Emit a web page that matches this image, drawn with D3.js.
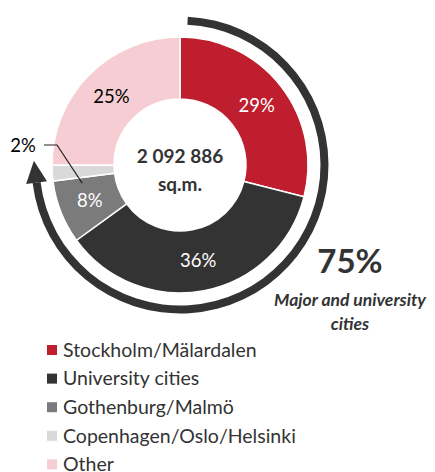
<!DOCTYPE html>
<html>
<head>
<meta charset="utf-8">
<script src="https://cdn.jsdelivr.net/npm/d3@7"></script>
<style>
  body { margin: 0; background: #fff; }
  text { font-family: Lato, "Open Sans", sans-serif; }
</style>
</head>
<body>
<svg class="mysvg"></svg>
<script>
var categories = ["Stockholm/Mälardalen", "University cities", "Gothenburg/Malmö", "Copenhagen/Oslo/Helsinki", "Other"];
var values = [29, 36, 8, 2, 25];
var colors = ["#be1e2d", "#333333", "#7b7b7b", "#d9d9d9", "#f6cdd2"];
var labelColors = ["#fff", "#fff", "#fff", "#000", "#000"];
var totalLabel = ["2 092 886", "sq.m."];
var highlight = "75%";
var highlightText = ["Major and university", "cities"];

var svgWidth = 435,
    svgHeight = 472,
    cx = 180,
    cy = 165,
    outer = 128,
    inner = 66;

var svg = d3.select(".mysvg")
    .attr("width", svgWidth)
    .attr("height", svgHeight);

var g = svg.append("g")
    .attr("transform", "translate(" + cx + "," + cy + ")");

var data = categories.map(function(c, i) { return {name: c, value: values[i], i: i}; });

var pie = d3.pie().sort(null).value(function(d) { return d.value; });
var arcs = pie(data);

var path = d3.arc().innerRadius(inner).outerRadius(outer);
var labelArc = d3.arc().innerRadius(97).outerRadius(97);

g.selectAll("path.slice")
    .data(arcs)
    .enter()
    .append("path")
    .attr("class", "slice")
    .attr("d", path)
    .attr("fill", function(d) { return colors[d.data.i]; })
    .attr("stroke", "#fff")
    .attr("stroke-width", 1.5);

// labels inside slices (the 2% one sits outside)
g.selectAll("text.lbl")
    .data(arcs.filter(function(d) { return d.data.value > 2; }))
    .enter()
    .append("text")
    .attr("class", "lbl")
    .attr("transform", function(d) { return "translate(" + labelArc.centroid(d) + ")"; })
    .attr("text-anchor", "middle")
    .attr("dy", "0.35em")
    .attr("font-size", 18.5)
    .attr("fill", function(d) { return labelColors[d.data.i]; })
    .text(function(d) { return d.data.value + "%"; });

// small slice label with leader line
var small = arcs[3];
var sa = (small.startAngle + small.endAngle) / 2;
var p0 = [Math.sin(sa) * 98, -Math.cos(sa) * 98 + 12];
g.append("polyline")
    .attr("points", [[-136, -20], [-123, -20], p0].join(" "))
    .attr("fill", "none")
    .attr("stroke", "#222")
    .attr("stroke-width", 1.2);
g.append("text")
    .attr("x", -157)
    .attr("y", -19)
    .attr("dy", "0.35em")
    .attr("text-anchor", "middle")
    .attr("font-size", 18.5)
    .attr("fill", "#000")
    .text(small.data.value + "%");

// centre total
g.selectAll("text.total")
    .data(totalLabel)
    .enter()
    .append("text")
    .attr("class", "total")
    .attr("text-anchor", "middle")
    .attr("y", function(d, i) { return -9 + i * 28; })
    .attr("dy", "0.35em")
    .attr("font-size", 19)
    .attr("font-weight", "bold")
    .attr("fill", "#333")
    .text(function(d) { return d; });

// arrow arc round the big share
var ringR = 144.5;
var endA = 263 * Math.PI / 180;
var ring = d3.arc().innerRadius(ringR - 4).outerRadius(ringR + 4)
    .startAngle(3 * Math.PI / 180).endAngle(endA);
g.append("path").attr("d", ring()).attr("fill", "#333");

var ex = Math.sin(endA) * ringR, ey = -Math.cos(endA) * ringR;
var tx = Math.cos(endA), ty = Math.sin(endA); // tangent, clockwise
var nx = -ty, ny = tx;
g.append("path")
    .attr("d", "M" + (ex + tx * 22) + "," + (ey + ty * 22) +
        "L" + (ex + nx * 10.5) + "," + (ey + ny * 10.5) +
        "L" + (ex - nx * 10.5) + "," + (ey - ny * 10.5) + "Z")
    .attr("fill", "#333");

// 75% callout
svg.append("text")
    .attr("x", 350).attr("y", 273)
    .attr("text-anchor", "middle")
    .attr("font-size", 33)
    .attr("font-weight", "bold")
    .attr("fill", "#333")
    .text(highlight);
svg.selectAll("text.hl")
    .data(highlightText)
    .enter()
    .append("text")
    .attr("class", "hl")
    .attr("x", 350)
    .attr("y", function(d, i) { return 306 + i * 24; })
    .attr("text-anchor", "middle")
    .attr("font-size", 17.5)
    .attr("font-weight", "bold")
    .attr("font-style", "italic")
    .attr("fill", "#333")
    .text(function(d) { return d; });

// legend
var legend = svg.selectAll("g.leg")
    .data(data)
    .enter()
    .append("g")
    .attr("class", "leg")
    .attr("transform", function(d, i) { return "translate(47," + (350 + i * 28.6) + ")"; });
legend.append("rect")
    .attr("x", 0).attr("y", -5)
    .attr("width", 10).attr("height", 10)
    .attr("fill", function(d) { return colors[d.i]; });
legend.append("text")
    .attr("x", 16)
    .attr("dy", "0.35em")
    .attr("font-size", 19.5)
    .attr("fill", "#333")
    .text(function(d) { return d.name; });
</script>
</body>
</html>
